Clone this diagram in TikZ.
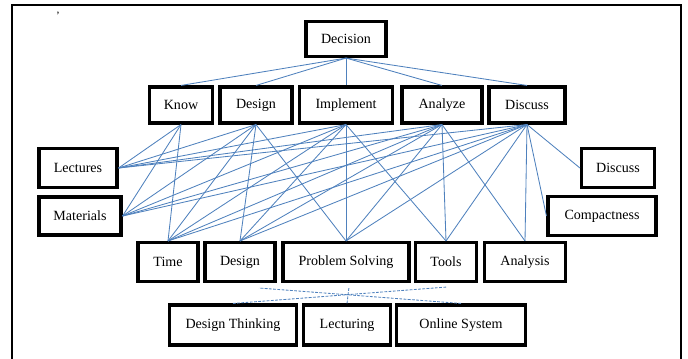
\documentclass[tikz,border=0pt]{standalone}
\usepackage{fontspec}
\setmainfont{Liberation Serif}
\usetikzlibrary{positioning}
\definecolor{linkblue}{RGB}{79,129,189}
\tikzset{
  box/.style={draw, line width=2.2pt, text centered, minimum height=0.9cm, inner sep=2pt},
  link/.style={draw=linkblue, line width=0.6pt},
  dlink/.style={draw=linkblue, line width=0.6pt, dash pattern=on 2pt off 1pt}
}

\begin{document}
\begin{tikzpicture}[x=0.025cm, y=-0.025cm]
  \useasboundingbox (0,0) rectangle (688,358);
  \draw[line width=1.4pt] (12,370) -- (12,5) -- (681,5) -- (681,370);
  \node[font=\footnotesize, inner sep=0pt] (tick) at (58,16) {'};
  % goal
  \node[box, minimum width=2cm, minimum height=0.875cm] (dec) at (346,39) {Decision};
  % criteria
  \node[box, minimum width=1.575cm] (know) at (181,105) {Know};
  \node[box, minimum width=1.8cm] (design) at (256,105) {Design};
  \node[box, minimum width=2.325cm] (impl) at (346,105) {Implement};
  \node[box, minimum width=2cm] (analyze) at (442,105) {Analyze};
  \node[box, minimum width=1.9cm] (discuss) at (527,105) {Discuss};
  % sub criteria
  \node[box, minimum width=1.95cm, minimum height=0.975cm] (lect) at (78,168) {Lectures};
  \node[box, minimum width=2.05cm, minimum height=0.95cm] (mat) at (80,216) {Materials};
  \node[box, minimum width=1.5cm, minimum height=0.975cm] (time) at (168,262) {Time};
  \node[box, minimum width=1.75cm, minimum height=0.975cm] (sdesign) at (240,262) {Design};
  \node[box, minimum width=3.15cm, minimum height=0.975cm] (psolve) at (346,262) {Problem Solving};
  \node[box, minimum width=1.525cm, minimum height=0.975cm] (tools) at (446,262) {Tools};
  \node[box, minimum width=2.025cm, minimum height=0.975cm] (anal) at (525,262) {Analysis};
  \node[box, minimum width=1.825cm, minimum height=0.975cm] (sdiscuss) at (618,168) {Discuss};
  \node[box, minimum width=2.7cm, minimum height=0.975cm] (compact) at (602,216) {Compactness};
  % alternatives
  \node[box, minimum width=3.175cm, minimum height=1cm] (dthink) at (233,325) {Design Thinking};
  \node[box, minimum width=2.175cm, minimum height=1cm] (lecturing) at (347,325) {Lecturing};
  \node[box, minimum width=3.225cm, minimum height=1cm] (online) at (461,325) {Online System};

  \foreach \m in {know,design,impl,analyze,discuss}
    \draw[link] (dec.south) -- (\m.north);
  \foreach \m in {know,design,impl,analyze,discuss}{
    \draw[link] (\m.south) -- (lect.east);
    \draw[link] (\m.south) -- (mat.east);
    \draw[link] (\m.south) -- (time.north);
  }
  \foreach \m in {design,impl,analyze,discuss}{
    \draw[link] (\m.south) -- (sdesign.north);
    \draw[link] (\m.south) -- (psolve.north);
  }
  \foreach \m in {impl,analyze,discuss}
    \draw[link] (\m.south) -- (tools.north);
  \foreach \m in {analyze,discuss}
    \draw[link] (\m.south) -- (anal.north);
  \draw[link] (discuss.south) -- (sdiscuss.west);
  \draw[link] (discuss.south) -- (compact.west);

  % dashed links to alternatives
  \coordinate (c1) at (259,288);
  \coordinate (c2) at (349,287);
  \coordinate (c3) at (447,287);
  \draw[dlink] (dthink.north) -- (c3);
  \draw[dlink] (lecturing.north) -- (c2);
  \draw[dlink] (online.north) -- (c1);
\end{tikzpicture}
\end{document}
